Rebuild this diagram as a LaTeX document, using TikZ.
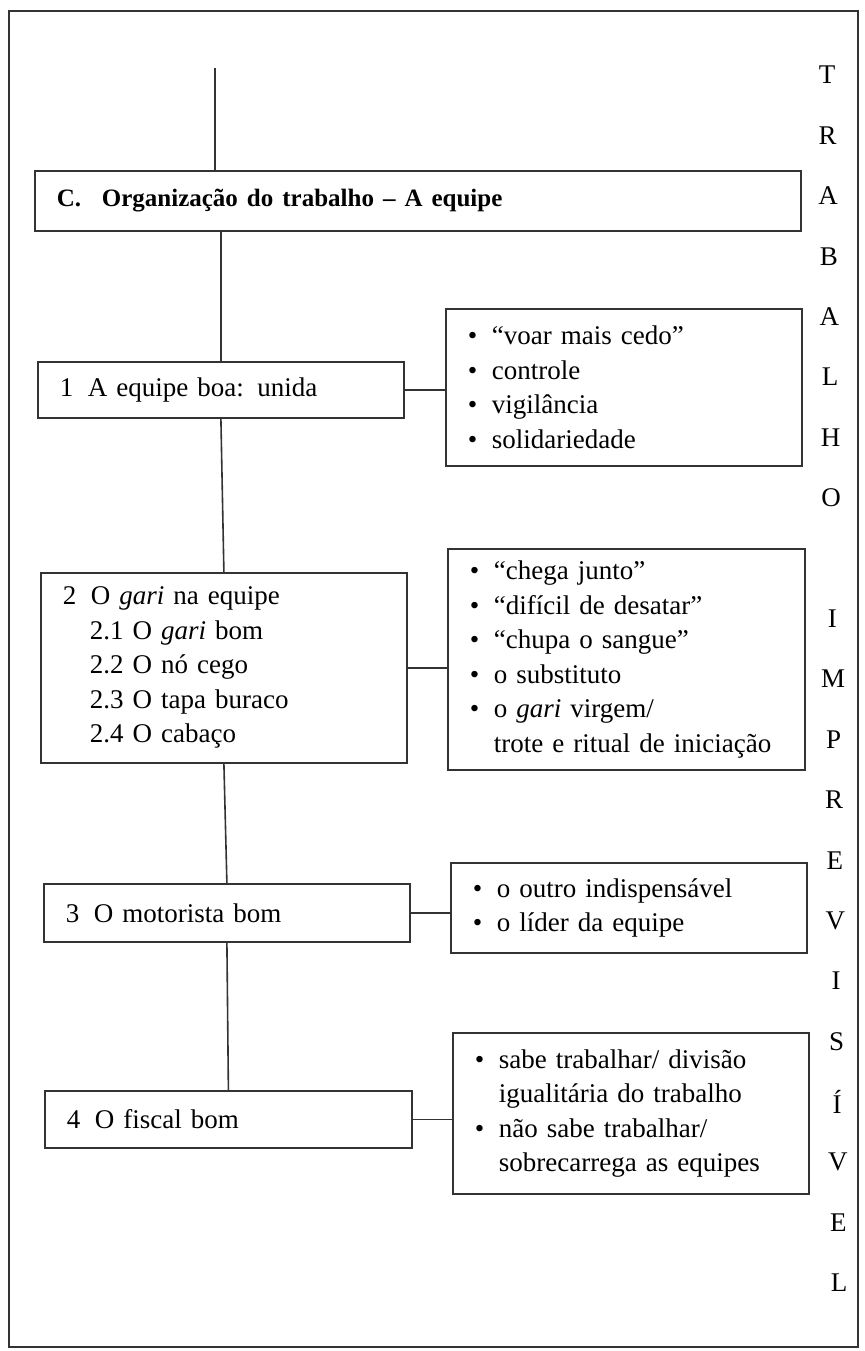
\documentclass[tikz,border=0pt]{standalone}
\usepackage{fontspec}
\setmainfont{Liberation Serif}
\usepackage{tikz}

\newcommand{\bitem}{\makebox[12pt][l]{\textbullet}}
\newcommand{\bcont}{\hspace*{12pt}}
\newcommand{\nr}[1]{\makebox[14pt][l]{#1}}

\begin{document}
\begin{tikzpicture}[x=0.5pt,y=-0.5pt,
    frame/.style={draw=black!80,line width=1pt},
    box/.style={draw=black!80,line width=0.9pt,anchor=north west,
      inner xsep=11pt,inner ysep=0pt,align=left},
    link/.style={draw=black!80,line width=0.8pt},
    letter/.style={inner sep=0pt},
    font=\fontsize{13.5}{17.25}\selectfont]
        \useasboundingbox (0,0) rectangle (865,1351);

        % outer frame
        \draw[frame] (9,11) rectangle (858,1347);

        % heading
        \coordinate (top) at (215,68);
        \node[box,text width=361pt,minimum height=30pt] (hC) at (34,170)
            {\fontsize{12.5}{17}\selectfont\bfseries\makebox[22.5pt][l]{C.}Organização do trabalho -- A equipe};

        % left column
        \node[box,text width=161pt,minimum height=28pt] (h1) at (37,361)
            {\nr{1}A equipe boa: unida};
        \node[box,text width=161pt,minimum height=95pt] (h2) at (40,572)
            {\nr{2}O \textit{gari} na equipe\\
             \hspace*{13.5pt}2.1 O \textit{gari} bom\\
             \hspace*{13.5pt}2.2 O nó cego\\
             \hspace*{13.5pt}2.3 O tapa buraco\\
             \hspace*{13.5pt}2.4 O cabaço};
        \node[box,text width=161pt,minimum height=29pt] (h3) at (43,883)
            {\nr{3}O motorista bom};
        \node[box,text width=161.5pt,minimum height=28.5pt] (h4) at (44,1090)
            {\nr{4}O fiscal bom};

        % right column
        \node[box,text width=156pt,minimum height=78.5pt] (r1) at (445,308)
            {\bitem``voar mais cedo''\\
             \bitem controle\\
             \bitem vigilância\\
             \bitem solidariedade};
        \node[box,text width=156.5pt,minimum height=110.5pt] (r2) at (447,548)
            {\bitem``chega junto''\\
             \bitem``difícil de desatar''\\
             \bitem``chupa o sangue''\\
             \bitem o substituto\\
             \bitem o \textit{gari} virgem/\\
             \bcont trote e ritual de iniciação};
        \node[box,text width=156pt,minimum height=45pt] (r3) at (450,862)
            {\bitem o outro indispensável\\
             \bitem o líder da equipe};
        \node[box,text width=156pt,minimum height=80.5pt] (r4) at (452,1032)
            {\bitem sabe trabalhar/ divisão\\
             \bcont igualitária do trabalho\\
             \bitem não sabe trabalhar/\\
             \bcont sobrecarrega as equipes};

        % trunk
        \draw[link] (top) -- (top |- hC.north);
        \draw[link] (hC.south -| h1.north) -- (h1.north);
        \draw[link] (h1.south) -- (h2.north);
        \draw[link] (h2.south) -- (h3.north);
        \draw[link] (h3.south) -- (h4.north);

        % branches
        \draw[link] (h1.east) -- (h1.east -| r1.west);
        \draw[link] (h2.east) -- (h2.east -| r2.west);
        \draw[link] (h3.east) -- (h3.east -| r3.west);
        \draw[link] (h4.east) -- (h4.east -| r4.west);

        % side word
        \foreach \l [count=\k from 0] in {T,R,A,B,A,L,H,O}
            \node[letter] (w\k) at ({827+0.6*\k},{75+60.4*\k}) {\l};
        \foreach \l [count=\k from 9] in {I,M,P,R,E,V,I,S,Í,V,E,L}
            \node[letter] (w\k) at ({827+0.6*\k},{75+60.4*\k}) {\l};
    \end{tikzpicture}
\end{document}
